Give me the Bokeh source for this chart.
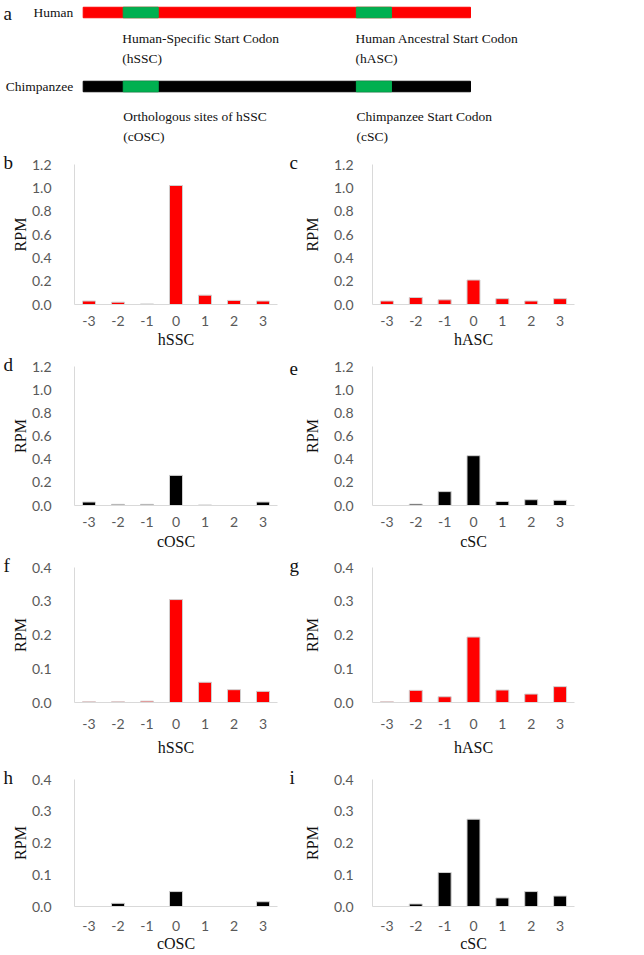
from bokeh.plotting import figure
from bokeh.models import Range1d, FactorRange, FixedTicker, PrintfTickFormatter
from bokeh.layouts import column, row
from bokeh.core.properties import value
from bokeh.embed import file_html
from bokeh.resources import INLINE

# ---------------- data ----------------
positions = ["-3", "-2", "-1", "0", "1", "2", "3"]

b_hSSC = [0.03, 0.02, 0.005, 1.02, 0.08, 0.035, 0.03]
c_hASC = [0.03, 0.06, 0.04, 0.21, 0.05, 0.03, 0.05]
d_cOSC = [0.03, 0.01, 0.01, 0.26, 0.005, 0.0, 0.03]
e_cSC = [0.0, 0.012, 0.12, 0.43, 0.035, 0.05, 0.045]
f_hSSC = [0.002, 0.002, 0.004, 0.305, 0.06, 0.038, 0.033]
g_hASC = [0.002, 0.036, 0.017, 0.194, 0.037, 0.025, 0.047]
h_cOSC = [0.0, 0.01, 0.0, 0.047, 0.0, 0.0, 0.015]
i_cSC = [0.0, 0.008, 0.107, 0.275, 0.027, 0.047, 0.033]

y_ticks_high = [0.0, 0.2, 0.4, 0.6, 0.8, 1.0, 1.2]
y_ticks_low = [0.0, 0.1, 0.2, 0.3, 0.4]

# schematic (positions in % of transcript length)
species = ["Human", "Chimpanzee"]
track_colors = ["#ff0000", "#000000"]
track_start = [0.0, 0.0]
track_end = [100.0, 100.0]
codon_start = [10.34, 70.54]
codon_end = [19.38, 79.59]
human_sites = ["Human-Specific Start Codon", "Human Ancestral Start Codon"]
human_abbr = ["(hSSC)", "(hASC)"]
chimp_sites = ["Orthologous sites of hSSC", "Chimpanzee Start Codon"]
chimp_abbr = ["(cOSC)", "(cSC)"]

SERIF = "Liberation Serif"
SANS = "Lato"
RED = "#ff0000"
BLACK = "#000000"
GREEN = "#00b050"
TXT = "#111111"
GRAY_TXT = "#595959"
AX = "#d9d9d9"

# ---------------- schematic ----------------
TOP_H = 145
top = figure(width=644, height=TOP_H, x_range=Range1d(-21.35, 144.93), y_range=Range1d(TOP_H, 0),
             x_axis_location=None, y_axis_location=None, output_backend="svg",
             toolbar_location=None, min_border=0)
top.grid.visible = False
top.outline_line_color = None

TRACK_Y = [12, 86]
top.hbar(y=TRACK_Y, left=track_start, right=track_end, height=10.5, color=track_colors)
for ty in TRACK_Y:
    top.hbar(y=[ty] * len(codon_start), left=codon_start, right=codon_end, height=10.5, color=GREEN)

txt_kw = dict(text_font=value(SERIF), text_font_size="13.5px", text_color=TXT)
top.text(x=track_start, y=TRACK_Y, text=species, x_offset=-10, text_align="right",
         text_baseline="middle", **txt_kw)
top.text(x=codon_start, y=[38, 38], text=human_sites, x_offset=-1, text_align="left",
         text_baseline="alphabetic", **txt_kw)
top.text(x=codon_start, y=[58, 58], text=human_abbr, x_offset=-1, text_align="left",
         text_baseline="alphabetic", **txt_kw)
top.text(x=codon_start, y=[116, 116], text=chimp_sites, x_offset=0, text_align="left",
         text_baseline="alphabetic", **txt_kw)
top.text(x=codon_start, y=[136, 136], text=chimp_abbr, x_offset=0, text_align="left",
         text_baseline="alphabetic", **txt_kw)
top.text(x=[-20.6], y=[13], text=["a"], text_align="left", text_baseline="alphabetic",
         text_font=value(SERIF), text_font_size="19px", text_color=TXT)


# ---------------- bar panels ----------------
def panel(vals, color, letter, xlabel, ymax, ticks, side, height, b_top, b_bottom,
          tick_standoff, xlabel_standoff):
    if side == "left":
        width, bl, br = 283, 74, 6
        rpm_standoff, ylab_standoff, letter_off = 0, 23, -71
    else:
        width, bl, br = 361, 89, 70
        rpm_standoff, ylab_standoff, letter_off = 10, 19, -83
    p = figure(width=width, height=height, x_range=FactorRange(*positions),
               y_range=Range1d(0, ymax), output_backend="svg", toolbar_location=None,
               min_border_left=bl, min_border_right=br, min_border_top=b_top,
               min_border_bottom=b_bottom)
    p.grid.visible = False
    p.outline_line_color = None
    p.vbar(x=positions, top=vals, width=0.45, fill_color=color, line_color="#d0d0d0",
           line_width=1)
    for ax in (p.xaxis[0], p.yaxis[0]):
        ax.axis_line_color = AX
        ax.axis_line_width = 1
        ax.major_tick_line_color = None
        ax.minor_tick_line_color = None
        ax.major_tick_in = 0
        ax.major_tick_out = 0
        ax.major_label_text_font = SANS
        ax.major_label_text_font_size = "14px"
        ax.major_label_text_color = GRAY_TXT
        ax.axis_label_text_font = SERIF
        ax.axis_label_text_font_size = "16px"
        ax.axis_label_text_font_style = "normal"
        ax.axis_label_text_color = TXT
    p.yaxis.ticker = FixedTicker(ticks=ticks)
    p.yaxis.formatter = PrintfTickFormatter(format="%.1f")
    p.yaxis.major_label_standoff = ylab_standoff
    p.yaxis.axis_label = "RPM"
    p.yaxis.axis_label_standoff = rpm_standoff
    p.xaxis.major_label_standoff = tick_standoff
    p.xaxis.axis_label = xlabel
    p.xaxis.axis_label_standoff = xlabel_standoff

    # panel letter as the plot title, pulled left of the frame and down to its top edge
    p.title.text = letter
    p.title.align = "left"
    p.title.offset = letter_off
    p.title.vertical_align = "bottom"
    p.title.standoff = -16
    p.title.text_font = SERIF
    p.title.text_font_size = "19px"
    p.title.text_font_style = "normal"
    p.title.text_color = TXT
    return p


rows_spec = [
    # height, top border, bottom border, tick standoff, xlabel standoff
    (205, 19, 44, 11, 2),
    (202, 16, 46, 11, 3),
    (206, 15, 55, 16, 7),
    (196, 21, 45, 14, 1),
]

panels = [
    ((b_hSSC, RED, "b", "hSSC"), (c_hASC, RED, "c", "hASC"), 1.2, y_ticks_high),
    ((d_cOSC, BLACK, "d", "cOSC"), (e_cSC, BLACK, "e", "cSC"), 1.2, y_ticks_high),
    ((f_hSSC, RED, "f", "hSSC"), (g_hASC, RED, "g", "hASC"), 0.4, y_ticks_low),
    ((h_cOSC, BLACK, "h", "cOSC"), (i_cSC, BLACK, "i", "cSC"), 0.4, y_ticks_low),
]

rows = [top]
for (left_p, right_p, ymax, ticks), spec in zip(panels, rows_spec):
    lv, lc, ll, lx = left_p
    rv, rc, rl, rx = right_p
    rows.append(row(
        panel(lv, lc, ll, lx, ymax, ticks, "left", *spec),
        panel(rv, rc, rl, rx, ymax, ticks, "right", *spec),
    ))

layout = column(*rows)

open("out.html", "w").write(file_html(layout, INLINE))
